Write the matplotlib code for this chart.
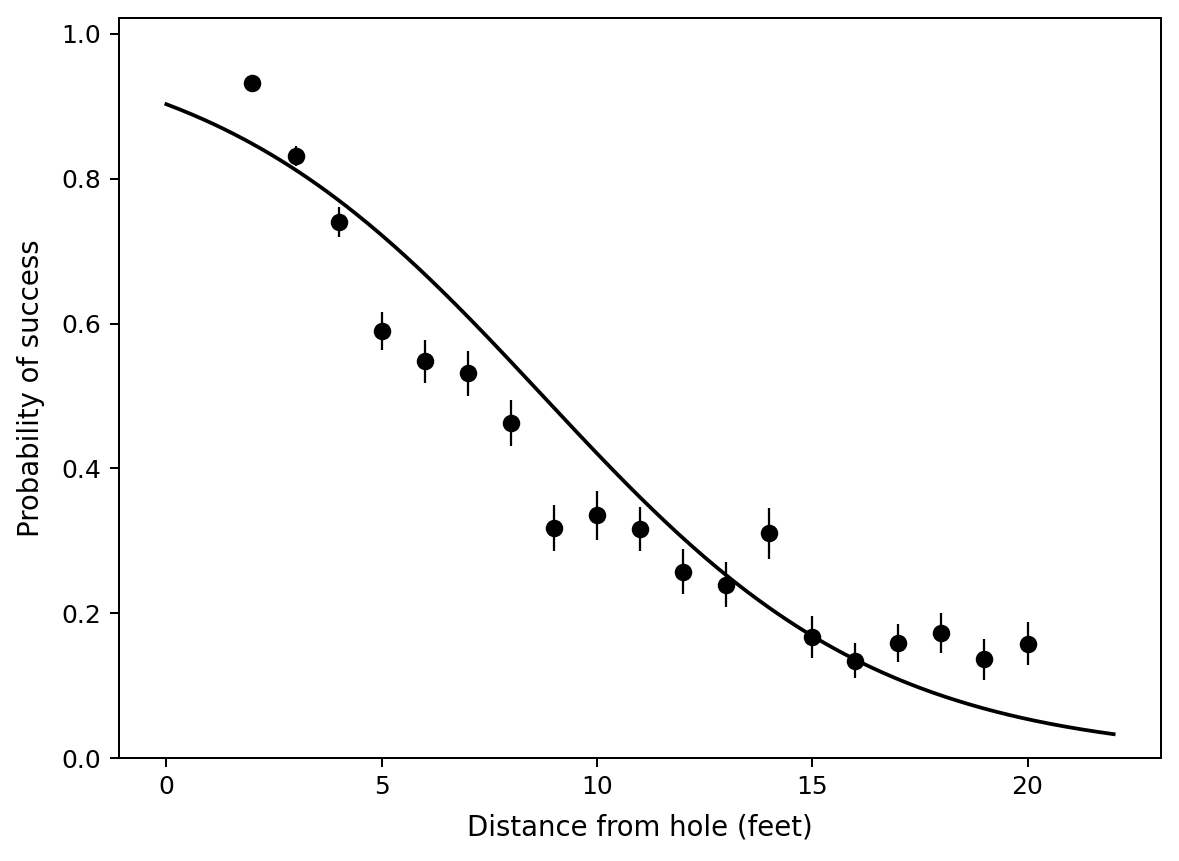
import numpy as np
import matplotlib
matplotlib.use("Agg")
import matplotlib.pyplot as plt

# Golf putting data
distance = [2, 3, 4, 5, 6, 7, 8, 9, 10, 11, 12, 13, 14, 15, 16, 17, 18, 19, 20]
attempts = [1443, 694, 455, 353, 272, 256, 240, 217, 200, 237, 202, 192, 174, 167, 201, 195, 191, 147, 152]
successes = [1346, 577, 337, 208, 149, 136, 111, 69, 67, 75, 52, 46, 54, 28, 27, 31, 33, 20, 24]

# Logistic fit coefficients
logit_intercept = 2.23
logit_slope = -0.255
curve_range = (0, 22)

x = np.array(distance)
n = np.array(attempts)
y = np.array(successes)
p = y / n
se = np.sqrt(p * (1 - p) / n)

fig = plt.figure(figsize=(1179 / 180, 861 / 180), dpi=180)
ax = fig.add_axes([119 / 1179, 1 - 758 / 861, (1161 - 119) / 1179, (758 - 18) / 861])

xs = np.linspace(curve_range[0], curve_range[1], 300)
ax.plot(xs, 1 / (1 + np.exp(-(logit_intercept + logit_slope * xs))), color="black", lw=1.5)
ax.errorbar(x, p, yerr=se, fmt="o", color="black", ecolor="black", elinewidth=0.9, capsize=0, markersize=6)

ax.set_xlim(-1.1, 23.1)
ax.set_ylim(0, 1.022)
ax.set_xlabel("Distance from hole (feet)", fontsize=11, labelpad=5.5)
ax.set_ylabel("Probability of success", fontsize=11, labelpad=6.5)

fig.savefig("out.png", dpi=180)
